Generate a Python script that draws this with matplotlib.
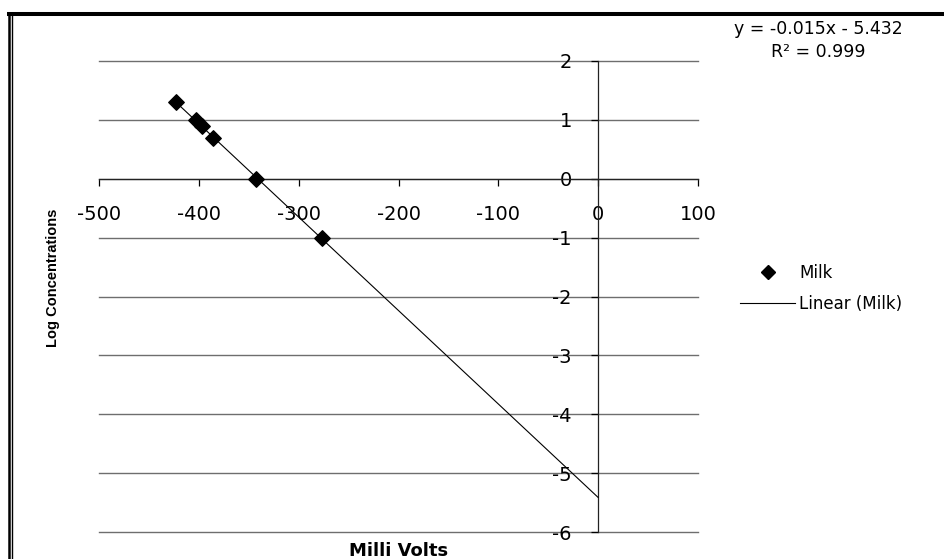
import matplotlib
matplotlib.use("Agg")
import matplotlib.pyplot as plt
from matplotlib.lines import Line2D
import numpy as np

# 数据：毫伏读数与浓度对数
milli_volts = [-423, -403, -397, -386, -343, -277]
log_conc = [1.301, 1.0, 0.903, 0.699, 0.0, -1.0]
x_ticks = [-500, -400, -300, -200, -100, 0, 100]
y_ticks = [-6, -5, -4, -3, -2, -1, 0, 1, 2]
equation_text = "y = -0.015x - 5.432\nR² = 0.999"

plt.rcParams["axes.unicode_minus"] = False

W, H = 944, 559
fig = plt.figure(figsize=(W / 100, H / 100), dpi=100)
fig.patch.set_facecolor("white")

# 轴区域（像素换算）
left, right, top, bottom = 99, 698, 61, 532
ax = fig.add_axes([left / W, 1 - bottom / H, (right - left) / W, (bottom - top) / H])
ax.set_xlim(-500, 100)
ax.set_ylim(-6, 2)

# 十字坐标轴
for side in ("top", "right"):
    ax.spines[side].set_visible(False)
ax.spines["left"].set_position(("data", 0))
ax.spines["bottom"].set_position(("data", 0))
for side in ("left", "bottom"):
    ax.spines[side].set_linewidth(0.9)
    ax.spines[side].set_color("#222222")

ax.set_xticks(x_ticks)
ax.set_yticks(y_ticks)
ax.tick_params(axis="x", direction="out", length=5, width=0.9, pad=14, labelsize=14)
ax.tick_params(axis="y", direction="out", length=5, width=0.9, pad=14, labelsize=14)

ax.yaxis.grid(True, color="#6e6e6e", linewidth=1.0)
for gl in ax.get_ygridlines():
    gl.set_clip_on(False)
ax.set_axisbelow(True)

# 趋势线：线性拟合并延伸到 x = 0
coef = np.polyfit(milli_volts, log_conc, 1)
xs = np.array([min(milli_volts), 0])
ax.plot(xs, np.polyval(coef, xs), color="black", linewidth=0.8, label="Linear (Milk)", zorder=3)
ax.scatter(milli_volts, log_conc, marker="D", s=62, color="black", label="Milk", zorder=4)

ax.set_xlabel("Milli Volts", fontsize=13, fontweight="bold")
ax.xaxis.set_label_coords(0.5, -0.040)
ax.xaxis.label.set_verticalalignment("center")
ax.set_ylabel("Log Concentrations", fontsize=10.5, fontweight="bold",
              family=["Liberation Sans", "DejaVu Sans"])
ax.yaxis.set_label_coords(-0.0768, 0.539)
ax.yaxis.label.set_verticalalignment("center")

fig.text(818 / W, 1 - 40.5 / H, equation_text, ha="center", va="center",
         fontsize=12.5, linespacing=1.4)

handles = [
    Line2D([], [], marker="D", linestyle="none", color="black", markersize=7.5),
    Line2D([], [], color="black", linewidth=0.8),
]
fig.legend(handles, ["Milk", "Linear (Milk)"], loc="center left",
           bbox_to_anchor=(740 / W, 1 - 288.5 / H), frameon=False,
           fontsize=12, handlelength=3.3, handletextpad=0.25,
           labelspacing=0.75, borderpad=0, borderaxespad=0)

# 外框线
fig.add_artist(Line2D([7 / W, 1], [1 - 13.5 / H] * 2, transform=fig.transFigure,
                      color="black", linewidth=2.9, solid_capstyle="butt"))
fig.add_artist(Line2D([8.5 / W] * 2, [1 - 12 / H, 0], transform=fig.transFigure,
                      color="black", linewidth=1.8, solid_capstyle="butt"))
fig.add_artist(Line2D([12.2 / W] * 2, [1 - 12 / H, 0], transform=fig.transFigure,
                      color="black", linewidth=1.0, solid_capstyle="butt"))

fig.savefig("out.png", dpi=100)
plt.close(fig)
